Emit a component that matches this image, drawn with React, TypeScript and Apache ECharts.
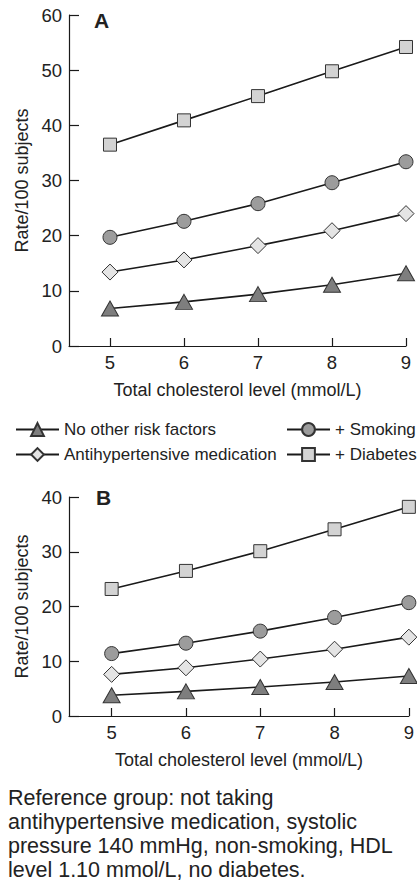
import React, { useEffect, useRef } from "react";
import * as echarts from "echarts";

const cholesterol = [5, 6, 7, 8, 9];
const xTicks = [5, 6, 7, 8, 9];

const seriesNames = [
  "No other risk factors",
  "Antihypertensive medication",
  "+ Smoking",
  "+ Diabetes",
];

// Panel A
const aNoRisk = [6.8, 8.0, 9.4, 11.1, 13.2];
const aAntihyp = [13.4, 15.6, 18.2, 20.9, 24.0];
const aSmoking = [19.7, 22.6, 25.8, 29.6, 33.4];
const aDiabetes = [36.5, 40.9, 45.3, 49.8, 54.2];

// Panel B
const bNoRisk = [3.8, 4.5, 5.3, 6.2, 7.3];
const bAntihyp = [7.6, 8.8, 10.4, 12.2, 14.4];
const bSmoking = [11.4, 13.3, 15.5, 18.0, 20.7];
const bDiabetes = [23.2, 26.5, 30.1, 34.1, 38.2];

const caption =
  "Reference group: not taking\nantihypertensive medication, systolic\npressure 140 mmHg, non-smoking, HDL\nlevel 1.10 mmol/L, no diabetes.";

const FONT = "'Liberation Sans', Arial, Helvetica, sans-serif";
const TEXT = "#222";
const LINE = "#1a1a1a";

const styles = [
  { symbol: "triangle", size: [17, 15], fill: "#7e7e7e" },
  { symbol: "diamond", size: 16, fill: "#e4e4e4" },
  { symbol: "circle", size: 14, fill: "#9c9c9c" },
  { symbol: "rect", size: 13, fill: "#d3d3d3" },
];

export default function App() {
  const ref = useRef<HTMLDivElement>(null);
  useEffect(() => {
    if (!ref.current) return;
    const chart = echarts.init(ref.current, undefined, { renderer: "svg" });
    const pairs = (vals: number[]) => cholesterol.map((x, i) => [x, vals[i]]);
    const panelA = [aNoRisk, aAntihyp, aSmoking, aDiabetes];
    const panelB = [bNoRisk, bAntihyp, bSmoking, bDiabetes];

    const mkSeries = (data: number[][], gi: number) =>
      data.map((vals, i) => ({
        type: "line",
        name: seriesNames[i],
        xAxisIndex: gi,
        yAxisIndex: gi,
        data: pairs(vals),
        symbol: styles[i].symbol,
        symbolSize: styles[i].size,
        showSymbol: true,
        lineStyle: { color: LINE, width: 1.6 },
        itemStyle: { color: styles[i].fill, borderColor: "#333", borderWidth: 1 },
        z: 3,
      }));

    const xAxisBase = (gi: number, min: number) => ({
      type: "value",
      gridIndex: gi,
      min,
      max: 9,
      name: "Total cholesterol level (mmol/L)",
      nameLocation: "middle",
      nameGap: 35,
      nameTextStyle: { fontSize: 18, color: TEXT, fontFamily: FONT },
      axisLine: { lineStyle: { color: LINE, width: 1.2 } },
      axisTick: { inside: true, length: 8, customValues: xTicks, lineStyle: { color: LINE, width: 1.2 } },
      axisLabel: { customValues: xTicks, fontSize: 18.5, color: TEXT, fontFamily: FONT, margin: 7 },
      splitLine: { show: false },
    });
    const yAxisBase = (gi: number, max: number) => ({
      type: "value",
      gridIndex: gi,
      min: 0,
      max,
      interval: 10,
      name: "Rate/100 subjects",
      nameLocation: "middle",
      nameGap: 36,
      nameTextStyle: { fontSize: 18, color: TEXT, fontFamily: FONT },
      axisLine: { show: true, lineStyle: { color: LINE, width: 1.2 } },
      axisTick: { show: true, inside: true, length: 10, lineStyle: { color: LINE, width: 1.2 } },
      axisLabel: { fontSize: 18.5, color: TEXT, fontFamily: FONT, margin: 7 },
      splitLine: { show: false },
    });

    const legendBase = (name: string, left: number, top: number) => ({
      data: [name],
      left,
      top,
      orient: "horizontal",
      itemWidth: 43,
      itemHeight: 16,
      itemGap: 6,
      padding: 0,
      selectedMode: false,
      textStyle: { fontSize: 17, color: TEXT, fontFamily: FONT },
    });

    chart.setOption({
      animation: false,
      backgroundColor: "#ffffff",
      grid: [
        { left: 69, top: 15, width: 337, height: 331 },
        { left: 69, top: 497, width: 340, height: 219 },
      ],
      xAxis: [xAxisBase(0, 4.446), xAxisBase(1, 4.426)],
      yAxis: [yAxisBase(0, 60), yAxisBase(1, 40)],
      legend: [
        legendBase(seriesNames[0], 15, 421),
        legendBase(seriesNames[1], 15, 446),
        legendBase(seriesNames[2], 286, 421),
        legendBase(seriesNames[3], 286, 446),
      ],
      graphic: [
        {
          type: "text",
          left: 94,
          top: 10,
          style: { text: "A", fontSize: 21, fontWeight: "bold", fill: TEXT, fontFamily: FONT },
        },
        {
          type: "text",
          left: 96,
          top: 487,
          style: { text: "B", fontSize: 21, fontWeight: "bold", fill: TEXT, fontFamily: FONT },
        },
        {
          type: "text",
          left: 8,
          top: 786,
          style: {
            text: caption,
            fontSize: 21.5,
            lineHeight: 24,
            fill: TEXT,
            fontFamily: FONT,
          },
        },
      ],
      series: [...mkSeries(panelA, 0), ...mkSeries(panelB, 1)],
    });
    return () => chart.dispose();
  }, []);
  return (
    <div
      ref={ref}
      style={{ position: "fixed", left: 0, top: 0, width: 417, height: 883, background: "#fff" }}
    />
  );
}
